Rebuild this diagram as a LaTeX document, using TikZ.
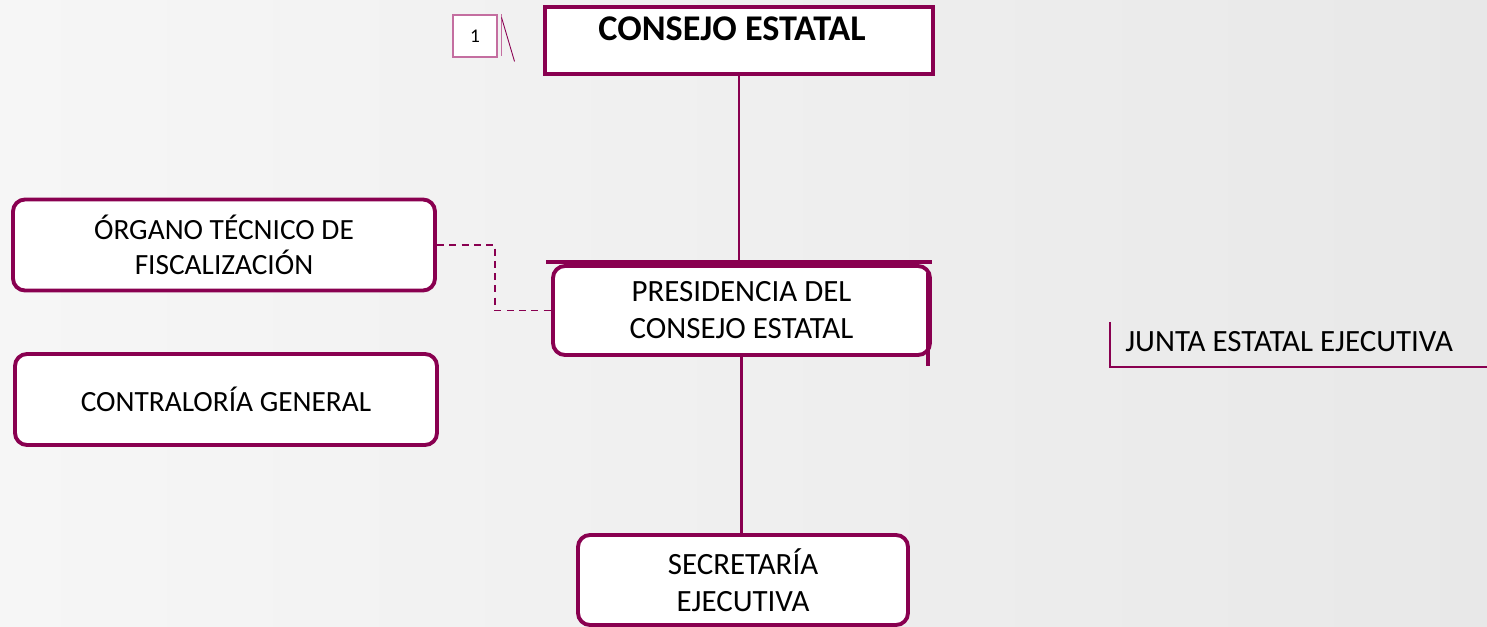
\documentclass[tikz,border=0pt]{standalone}
\usepackage{fontspec}
\setmainfont{Carlito}
\usepackage{tikz}
\usetikzlibrary{arrows,shapes,positioning}
\usepackage{xcolor}
\definecolor{ieepurple}{RGB}{137,0,80}
\definecolor{ieepink}{RGB}{196,110,160}
\tikzstyle{organo} = [rectangle, rounded corners=0.24cm, text centered, align=center, draw=ieepurple, fill=white, line width=2.2pt, font=\fontsize{17.6}{21}\selectfont]
\tikzstyle{consejo} = [rectangle, text centered, draw=ieepurple, fill=white, line width=2.2pt, font=\bfseries\fontsize{20.6}{24}\selectfont]
\tikzstyle{link} = [line width=1.3pt, color=ieepurple]
\tikzstyle{guide} = [line width=0.8pt, dashed, dash pattern=on 4pt off 3pt, color=ieepurple]

\begin{document}
\begin{tikzpicture}
% Background
\shade[left color=gray!7, middle color=white, right color=gray!18] (0,0) rectangle (29.74,-12.54);
\useasboundingbox (0,0) rectangle (29.74,-12.54);

% Top level
\node[consejo, minimum width=7.76cm, minimum height=1.34cm, text height=0.5cm, text depth=0.5cm] (consejo) at (14.78,-0.81) {CONSEJO ESTATAL\hspace*{0.28cm}};
\node[rectangle, draw=ieepink, line width=0.6pt, fill=white, minimum width=0.88cm, minimum height=0.84cm, font=\fontsize{11}{13}\selectfont] (num) at (9.5,-0.72) {1};
\draw[ieepink, line width=0.8pt] (num.north east) ++(0.08,0) -- ++(0,-0.84);
\draw[ieepurple, line width=0.5pt] (num.north east) ++(0.08,-0.06) -- ++(0.26,-0.88);

% Presidency
\node[organo, minimum width=7.54cm, minimum height=1.78cm] (pres) at (14.83,-6.21) {PRESIDENCIA DEL\\CONSEJO ESTATAL};
\coordinate (barL) at (10.92,-5.24);
\coordinate (barR) at (18.64,-5.24);
\draw[ieepurple, line width=2.2pt] (barL) -- (barR);
\draw[ieepurple, line width=2.2pt] (18.56,-5.46) -- (18.56,-7.32);

% Left units
\node[organo, minimum width=8.44cm, minimum height=1.82cm, font=\fontsize{16.7}{20}\selectfont] (tecnico) at (4.48,-4.9) {ÓRGANO TÉCNICO DE\\FISCALIZACIÓN};
\node[organo, minimum width=8.44cm, minimum height=1.82cm, font=\fontsize{16.7}{20}\selectfont] (contraloria) at (4.52,-7.99) {CONTRALORÍA GENERAL};

% Bottom unit
\node[organo, minimum width=6.6cm, minimum height=1.8cm] (secretaria) at (14.86,-11.6) {SECRETARÍA\\EJECUTIVA};

% Right unit
\node[anchor=west, inner sep=0pt, font=\fontsize{17.6}{21}\selectfont] (junta) at (22.5,-6.84) {JUNTA ESTATAL EJECUTIVA};
\coordinate (juntaT) at (22.2,-6.44);
\coordinate (juntaC) at (22.2,-7.34);
\coordinate (juntaR) at (29.74,-7.34);
\draw[ieepurple, line width=1.6pt] (juntaT) -- (juntaC) -- (juntaR);

% Lines
\draw[link] (consejo.south) -- (consejo.south |- barL);
\draw[link] (pres.south) -- (pres.south |- secretaria.north);
\draw[guide] (tecnico.east) -- ++(1.16,0) |- (pres.west);
\end{tikzpicture}
\end{document}
